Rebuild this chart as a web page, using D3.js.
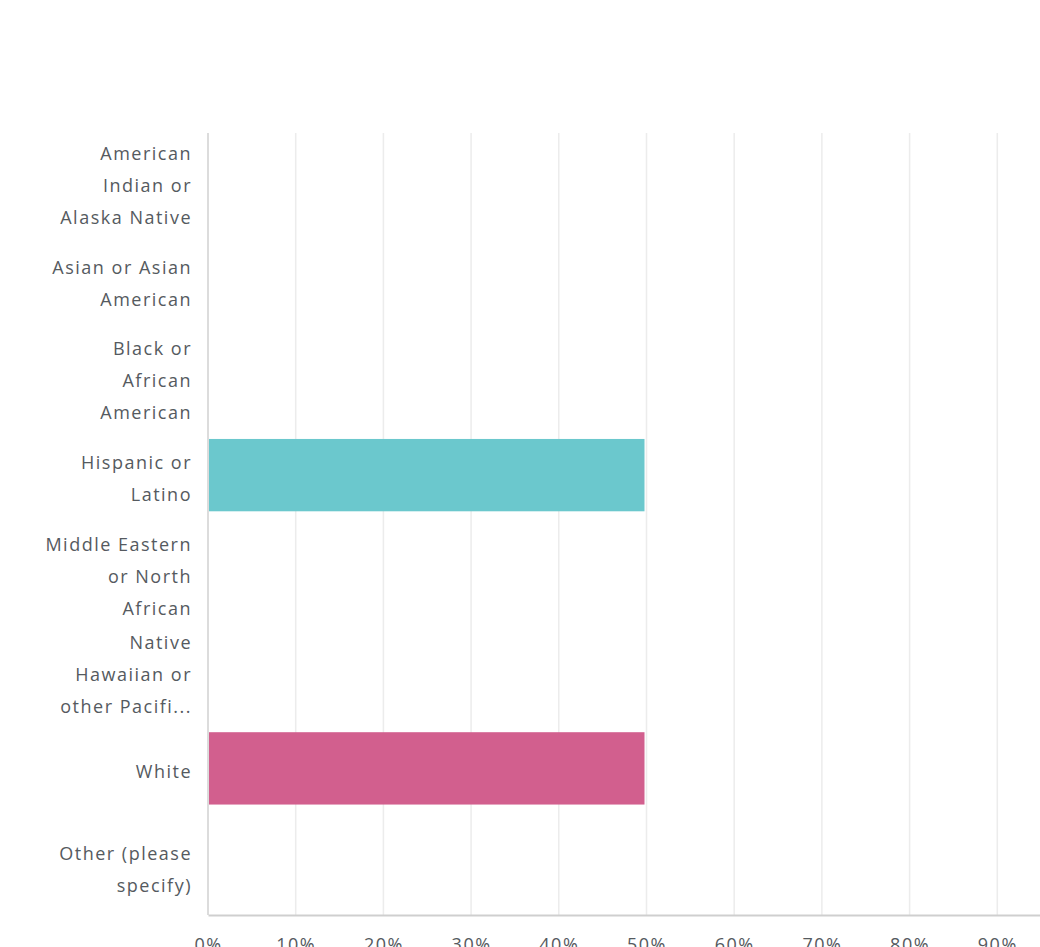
<!DOCTYPE html>
<html>
<head>
<meta charset="utf-8">
<script src="https://cdn.jsdelivr.net/npm/d3@7"></script>
<style>
  html, body { margin: 0; padding: 0; background: #fff; }
  svg { display: block; }
  text { font-family: "Open Sans", "Noto Sans", sans-serif; }
</style>
</head>
<body>
<svg id="chart" width="1040" height="947"></svg>
<script>
// Answer choices, in survey order
const categories = [
  "American Indian or Alaska Native",
  "Asian or Asian American",
  "Black or African American",
  "Hispanic or Latino",
  "Middle Eastern or North African",
  "Native Hawaiian or other Pacific Islander",
  "White",
  "Other (please specify)"
];

// Wrapped axis label lines for each answer choice
const categoryLines = [
  ["American", "Indian or", "Alaska Native"],
  ["Asian or Asian", "American"],
  ["Black or", "African", "American"],
  ["Hispanic or", "Latino"],
  ["Middle Eastern", "or North", "African"],
  ["Native", "Hawaiian or", "other Pacifi..."],
  ["White"],
  ["Other (please", "specify)"]
];

// Share of respondents (%)
const percentages = [0, 0, 0, 50, 0, 0, 50, 0];

const barColors = ["#6bc8cd", "#6bc8cd", "#6bc8cd", "#6bc8cd", "#6bc8cd", "#6bc8cd", "#d25f8e", "#d25f8e"];

const tickValues = [0, 10, 20, 30, 40, 50, 60, 70, 80, 90, 100];

const svg = d3.select("#chart");

const plot = { left: 208, right: 1085, top: 133, bottom: 915 };

const x = d3.scaleLinear().domain([0, 100]).range([plot.left, plot.right]);
const y = d3.scaleBand().domain(categories).range([plot.top, plot.bottom])
  .paddingInner(0.26).paddingOuter(0.13);

// vertical gridlines
svg.append("g")
  .selectAll("line")
  .data(tickValues.filter(d => d > 0))
  .join("line")
  .attr("x1", d => x(d)).attr("x2", d => x(d))
  .attr("y1", plot.top).attr("y2", plot.bottom)
  .attr("stroke", "#ececec")
  .attr("stroke-width", 1.5);

// bars
svg.append("g")
  .selectAll("rect")
  .data(categories)
  .join("rect")
  .attr("x", x(0) + 1)
  .attr("y", d => y(d))
  .attr("width", (d, i) => Math.max(0, x(percentages[i]) - x(0) - 3))
  .attr("height", y.bandwidth())
  .attr("fill", (d, i) => barColors[i]);

// left axis line
svg.append("line")
  .attr("x1", plot.left).attr("x2", plot.left)
  .attr("y1", plot.top).attr("y2", plot.bottom)
  .attr("stroke", "#d0d0d0").attr("stroke-width", 1.5);

// bottom axis
const xAxis = d3.axisBottom(x)
  .tickValues(tickValues)
  .tickFormat(d => d + "%")
  .tickSize(0)
  .tickPadding(23);

const gx = svg.append("g")
  .attr("transform", `translate(0,${plot.bottom})`)
  .call(xAxis);
gx.select(".domain").attr("stroke", "#cfcfcf").attr("stroke-width", 2);
gx.selectAll("text")
  .attr("fill", "#555a60")
  .attr("font-size", 18)
  .attr("letter-spacing", 1.5)
  .attr("font-family", "\"Open Sans\", sans-serif");

// category labels
const lineHeight = 32;
const labelX = 192;
const labels = svg.append("g")
  .selectAll("text")
  .data(categories)
  .join("text")
  .attr("text-anchor", "end")
  .attr("fill", "#555a60")
  .attr("font-size", 18)
  .attr("letter-spacing", 1.5)
  .attr("x", labelX)
  .attr("y", d => y(d) + y.bandwidth() / 2 + 3);

labels.each(function(d, i) {
  const lines = categoryLines[i];
  const offset = -(lines.length - 1) / 2 * lineHeight;
  d3.select(this).selectAll("tspan")
    .data(lines)
    .join("tspan")
    .attr("x", labelX)
    .attr("dy", (l, j) => j === 0 ? offset : lineHeight)
    .attr("dominant-baseline", "central")
    .text(l => l);
});
</script>
</body>
</html>
